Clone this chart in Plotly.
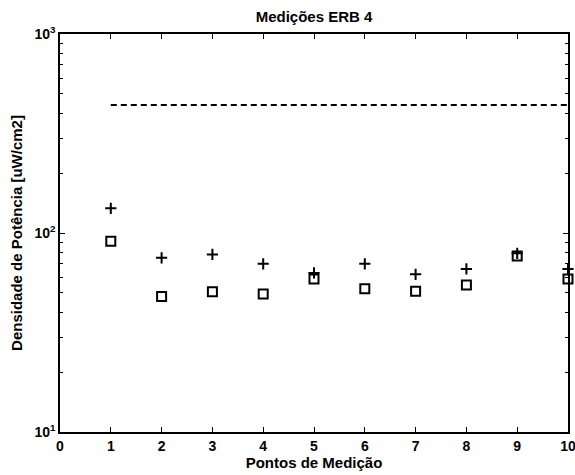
import plotly.graph_objects as go

pontos = [1, 2, 3, 4, 5, 6, 7, 8, 9, 10]
medicao_max = [133, 75, 78, 70, 63, 70, 62, 66, 79, 66]
medicao_media = [91, 48, 50.6, 49.3, 58.7, 52.4, 51, 54.8, 76.6, 58.7]
limite_x = [1, 10]
limite_y = [440, 440]

x_ticks = [0, 1, 2, 3, 4, 5, 6, 7, 8, 9, 10]
y_ticks = [10, 100, 1000]
y_ticktext = ["10<sup>1</sup>", "10<sup>2</sup>", "10<sup>3</sup>"]
y_minor = [20, 30, 40, 50, 60, 70, 80, 90, 200, 300, 400, 500, 600, 700, 800, 900]

fnt = "Liberation Sans, Arial, sans-serif"

fig = go.Figure()
fig.add_trace(go.Scatter(x=limite_x, y=limite_y, mode="lines",
                         line=dict(color="black", width=2, dash="6px,4px"),
                         showlegend=False, cliponaxis=False))
fig.add_trace(go.Scatter(x=pontos, y=medicao_max, mode="markers",
                         marker=dict(symbol="cross-thin", size=8,
                                     line=dict(color="black", width=2)),
                         showlegend=False, cliponaxis=False))
fig.add_trace(go.Scatter(x=pontos, y=medicao_media, mode="markers",
                         marker=dict(symbol="square-open", size=9, color="black",
                                     line=dict(color="black", width=2)),
                         showlegend=False, cliponaxis=False))

fig.update_layout(
    width=575, height=475,
    margin=dict(l=60, r=7, t=34, b=43, autoexpand=False),
    paper_bgcolor="white", plot_bgcolor="white",
    font=dict(family=fnt, size=14, color="black", weight="bold"),
    title=dict(text="Medições ERB 4", x=0.5, xref="paper", xanchor="center",
               y=1 - 17 / 475, yanchor="middle",
               font=dict(family=fnt, size=15, color="black", weight="bold")),
)
fig.update_xaxes(
    range=[0, 10], tickvals=x_ticks, ticks="inside", ticklen=5, tickcolor="black",
    showline=True, linecolor="black", linewidth=1.5, mirror="ticks",
    showgrid=False, zeroline=False, automargin=False, ticklabeloverflow="allow",
    tickfont=dict(family=fnt, size=14, color="black", weight="bold"),
    title=dict(text="Pontos de Medição", standoff=2,
               font=dict(family=fnt, size=15, color="black", weight="bold")),
)
fig.update_yaxes(
    type="log", range=[1, 3], tickvals=y_ticks, ticktext=y_ticktext,
    ticks="inside", ticklen=5, tickcolor="black",
    minor=dict(tickvals=y_minor, ticks="inside", ticklen=3, tickcolor="black", showgrid=False),
    showline=True, linecolor="black", linewidth=1.5, mirror="ticks",
    showgrid=False, zeroline=False, automargin=False, ticklabeloverflow="allow",
    tickfont=dict(family=fnt, size=14, color="black", weight="bold"),
    title=dict(text="Densidade de Potência [uW/cm2]", standoff=8,
               font=dict(family=fnt, size=15, color="black", weight="bold")),
)

fig.write_html("out.html", config={"displayModeBar": False},
               post_script="document.body.style.margin='0';")
